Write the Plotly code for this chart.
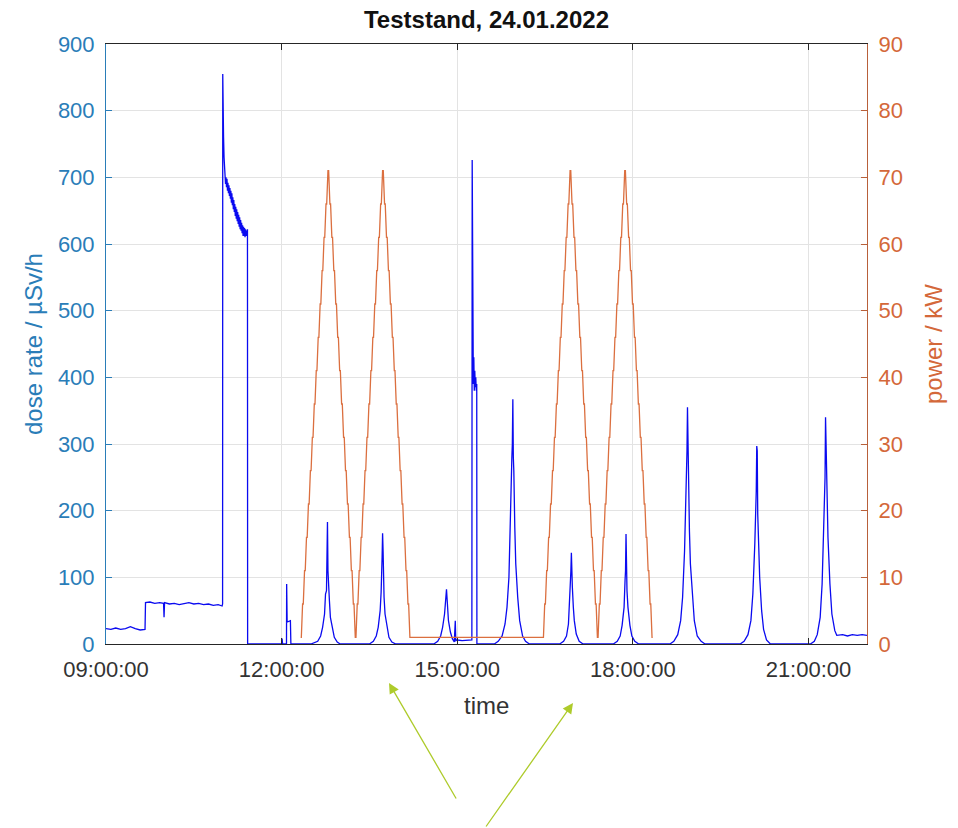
import pandas as pd
import plotly.graph_objects as go

DATE = "2022-01-24 "

# ---------------- dose rate (left axis, µSv/h) ----------------
dose_morning_t = ["09:00", "09:05", "09:10", "09:15", "09:20", "09:25", "09:30", "09:35", "09:40",
                  "09:40:30", "09:45", "09:50", "09:55", "09:59", "09:59:30", "10:00", "10:05", "10:10",
                  "10:15", "10:20", "10:25", "10:30", "10:35", "10:40", "10:45", "10:50", "10:55", "10:59",
                  "10:59:30"]
dose_morning_v = [23, 22, 24, 22, 23, 26, 23, 21, 22,
                  62, 63, 61, 62, 61, 40, 62, 60, 61,
                  59, 61, 62, 60, 61, 59, 60, 58, 59, 57,
                  60]

dose_burst_t = ["10:59:40", "11:00", "11:00:30", "11:01", "11:01:30", "11:02", "11:02:30", "11:03", "11:03:30",
                "11:04", "11:04:30", "11:05", "11:05:30", "11:06", "11:06:30", "11:07", "11:07:30", "11:08",
                "11:08:30", "11:09", "11:09:30", "11:10", "11:10:30", "11:11", "11:11:30", "11:12", "11:12:30",
                "11:13", "11:13:30", "11:14", "11:14:30", "11:15", "11:15:30", "11:16", "11:16:30", "11:17",
                "11:17:30", "11:18", "11:18:30", "11:19", "11:19:30", "11:20", "11:20:30", "11:21", "11:21:30",
                "11:22", "11:22:30", "11:23", "11:23:30", "11:24", "11:24:30", "11:25",
                "11:25:10", "12:00", "12:00:30", "12:01", "12:05", "12:05:10", "12:05:40", "12:09", "12:09:30"]
dose_burst_v = [855, 780, 760, 730, 715, 705, 690, 700, 685, 698, 680, 692, 676, 688, 672, 684, 668, 680,
                662, 676, 658, 670, 652, 666, 648, 660, 642, 656, 638, 652, 634, 648, 630, 644, 626, 640,
                622, 636, 620, 632, 616, 628, 612, 626, 612, 624, 610, 622, 612, 620, 612, 622,
                0, 0, 8, 0, 0, 90, 33, 35, 0]

dose_p1_t = ["12:30", "12:37", "12:40", "12:42", "12:44", "12:45", "12:46", "12:46:30", "12:47", "12:47:30",
             "12:48", "12:49", "12:50", "12:52", "12:54", "12:57", "13:00"]
dose_p1_v = [0, 4, 12, 25, 45, 75, 80, 120, 183, 110, 80, 65, 40, 22, 10, 3, 0]

dose_p2_t = ["13:30", "13:34", "13:37", "13:39", "13:41", "13:42", "13:43", "13:43:30", "13:44", "13:44:30",
             "13:45", "13:46", "13:48", "13:50", "13:53", "13:57"]
dose_p2_v = [0, 4, 12, 25, 50, 78, 130, 166, 140, 78, 70, 45, 25, 10, 3, 0]

dose_p3_t = ["14:36", "14:40", "14:43", "14:45", "14:47", "14:48", "14:49", "14:49:30", "14:50", "14:51",
             "14:53", "14:55", "14:57", "14:58", "14:58:30", "15:00", "15:05", "15:10", "15:15",
             "15:15:20", "15:15:40", "15:16", "15:16:30", "15:17", "15:17:30", "15:18", "15:18:30",
             "15:19", "15:19:30", "15:20", "15:20:10"]
dose_p3_v = [0, 4, 12, 25, 45, 60, 82, 70, 50, 35,
             18, 8, 3, 35, 5, 6, 5, 6, 6,
             726, 660, 470, 390, 430, 380, 410, 385,
             400, 380, 390, 0]

dose_p4_t = ["15:38", "15:42", "15:46", "15:49", "15:51", "15:53", "15:54", "15:55", "15:56", "15:56:30",
             "15:57", "15:57:30", "15:58", "15:59", "16:00", "16:02", "16:04", "16:07", "16:10", "16:14"]
dose_p4_v = [0, 4, 12, 30, 55, 100, 170, 250, 280, 300, 367, 280, 260, 175, 120, 70, 35, 12, 4, 0]

dose_p5_t = ["16:45", "16:49", "16:52", "16:54", "16:55", "16:56", "16:56:30", "16:57", "16:57:30", "16:58",
             "16:59", "17:00", "17:02", "17:05", "17:09"]
dose_p5_v = [0, 4, 12, 30, 55, 95, 110, 137, 95, 85, 55, 35, 15, 4, 0]

dose_p6_t = ["17:40", "17:44", "17:47", "17:49", "17:51", "17:52", "17:52:30", "17:53", "17:53:30", "17:54",
             "17:55", "17:57", "17:59", "18:02", "18:06"]
dose_p6_v = [0, 4, 12, 28, 55, 95, 110, 165, 110, 80, 55, 28, 12, 4, 0]

dose_p7_t = ["18:38", "18:42", "18:46", "18:49", "18:51", "18:53", "18:54", "18:55", "18:55:30", "18:56",
             "18:56:30", "18:57", "18:58", "18:59", "19:01", "19:03", "19:06", "19:10", "19:14"]
dose_p7_v = [0, 4, 14, 35, 70, 140, 200, 245, 290, 355, 300, 210, 170, 120, 70, 35, 12, 4, 0]

dose_p8_t = ["19:50", "19:54", "19:58", "20:01", "20:03", "20:05", "20:06", "20:06:30", "20:07", "20:07:30",
             "20:08", "20:09", "20:10", "20:12", "20:14", "20:17", "20:21"]
dose_p8_v = [0, 4, 14, 35, 75, 150, 195, 230, 297, 290, 195, 140, 100, 50, 22, 6, 0]

dose_p9_t = ["21:02", "21:06", "21:09", "21:12", "21:14", "21:15", "21:16", "21:17", "21:17:30", "21:18",
             "21:18:30", "21:19", "21:20", "21:22", "21:24", "21:27", "21:29", "21:35", "21:40", "21:45",
             "21:50", "21:55", "22:00"]
dose_p9_v = [0, 4, 14, 40, 90, 150, 230, 250, 340, 300,
             240, 240, 160, 90, 45, 20, 13, 14, 12, 14,
             13, 14, 13]

# ---------------- power (right axis, kW) ----------------
power_block_levels = [1, 6, 11, 16, 21, 26, 31, 36, 41, 46, 51, 56, 61, 66, 71,
                      66, 61, 56, 51, 46, 41, 36, 31, 26, 21, 16, 11, 6, 1,
                      6, 11, 16, 21, 26, 31, 36, 41, 46, 51, 56, 61, 66, 71,
                      66, 61, 56, 51, 46, 41, 36, 31, 26, 21, 16, 11, 6, 1]
power_block_starts = ["12:19:30", "16:27:40"]
power_step_minutes = 2.0   # each power level is set every 2 min
power_hold_minutes = 0.7   # level held briefly before ramping to the next one

# tick labels
x_tick_labels = ["09:00:00", "12:00:00", "15:00:00", "18:00:00", "21:00:00"]

# ---------------- assemble ----------------
dose_t, dose_v = [], []
for t, v in [(dose_morning_t, dose_morning_v), (dose_burst_t, dose_burst_v), (dose_p1_t, dose_p1_v),
             (dose_p2_t, dose_p2_v), (dose_p3_t, dose_p3_v), (dose_p4_t, dose_p4_v),
             (dose_p5_t, dose_p5_v), (dose_p6_t, dose_p6_v), (dose_p7_t, dose_p7_v),
             (dose_p8_t, dose_p8_v), (dose_p9_t, dose_p9_v)]:
    dose_t += [pd.Timestamp(DATE + s) for s in t]
    dose_v += v

power_t, power_v = [], []
for s in power_block_starts:
    start = pd.Timestamp(DATE + s)
    for i, lv in enumerate(power_block_levels):
        t0 = start + pd.Timedelta(minutes=power_step_minutes * i)
        power_t += [t0, t0 + pd.Timedelta(minutes=power_hold_minutes)]
        power_v += [lv, lv]

FONT = "Liberation Sans, Arial, Helvetica, sans-serif"
BLUE_AX = "#2a7db8"
ORANGE_AX = "#d4683a"
ORANGE_LINE = "#db6f3f"
DARK = "#333333"
GRID = "#e3e3e3"

fig = go.Figure()
fig.add_trace(go.Scatter(x=power_t, y=power_v, mode="lines", line=dict(color=ORANGE_LINE, width=1.3),
                         yaxis="y2", showlegend=False, hoverinfo="skip"))
fig.add_trace(go.Scatter(x=dose_t, y=dose_v, mode="lines", line=dict(color="#0a0af0", width=1.3),
                         yaxis="y", showlegend=False, hoverinfo="skip"))

tickvals = [pd.Timestamp(DATE + s) for s in x_tick_labels]

fig.update_layout(
    width=958, height=828,
    margin=dict(l=106, r=91, t=44, b=184),
    paper_bgcolor="white", plot_bgcolor="white",
    font=dict(family=FONT, size=22, color=DARK),
    title=dict(text="<b>Teststand, 24.01.2022</b>", font=dict(size=24, color="#111111", family=FONT),
               x=0.5, xref="paper", xanchor="center", y=1 - 20 / 828, yref="container", yanchor="middle"),
    xaxis=dict(type="date", range=[pd.Timestamp(DATE + "09:00"), pd.Timestamp(DATE + "22:00")],
               tickvals=tickvals, ticktext=x_tick_labels,
               showgrid=True, gridcolor=GRID, gridwidth=1,
               showline=True, linecolor="#262626", linewidth=1, mirror="ticks",
               ticks="inside", ticklen=6, tickcolor="#262626", ticklabelstandoff=6,
               tickfont=dict(size=22, color=DARK), zeroline=False),
    yaxis=dict(range=[0, 900], tickvals=list(range(0, 901, 100)),
               showgrid=True, gridcolor=GRID, gridwidth=1,
               showline=True, linecolor=BLUE_AX, linewidth=1,
               ticks="inside", ticklen=6, tickcolor=BLUE_AX, ticklabelstandoff=6,
               tickfont=dict(size=22, color=BLUE_AX), zeroline=False),
    yaxis2=dict(range=[0, 90], tickvals=list(range(0, 91, 10)), overlaying="y", side="right",
                showgrid=False, showline=True, linecolor="#b8603a", linewidth=1,
                ticks="inside", ticklen=6, tickcolor="#b8603a", ticklabelstandoff=6,
                tickfont=dict(size=22, color=ORANGE_AX), zeroline=False),
    annotations=[
        dict(text="dose rate / µSv/h", xref="paper", yref="paper", x=(33 - 106) / 761, y=0.5,
             textangle=-90, showarrow=False, xanchor="center", yanchor="middle",
             font=dict(size=24, color=BLUE_AX, family=FONT)),
        dict(text="power / kW", xref="paper", yref="paper", x=(933 - 106) / 761, y=0.5,
             textangle=-90, showarrow=False, xanchor="center", yanchor="middle",
             font=dict(size=24, color=ORANGE_AX, family=FONT)),
        dict(text="time", xref="paper", yref="paper", x=0.5, y=(644 - 705) / 600,
             showarrow=False, xanchor="center", yanchor="middle",
             font=dict(size=24, color=DARK, family=FONT)),
        dict(text="", xref="paper", yref="paper", x=(389 - 106) / 761, y=(644 - 683) / 600,
             showarrow=True, ax=68, ay=117, arrowhead=2, arrowsize=1.6, arrowwidth=1.3,
             arrowcolor="#aecb2b"),
        dict(text="", xref="paper", yref="paper", x=(573 - 106) / 761, y=(644 - 703) / 600,
             showarrow=True, ax=-88, ay=125, arrowhead=2, arrowsize=1.6, arrowwidth=1.3,
             arrowcolor="#aecb2b"),
    ],
)

fig.write_html("out.html")
